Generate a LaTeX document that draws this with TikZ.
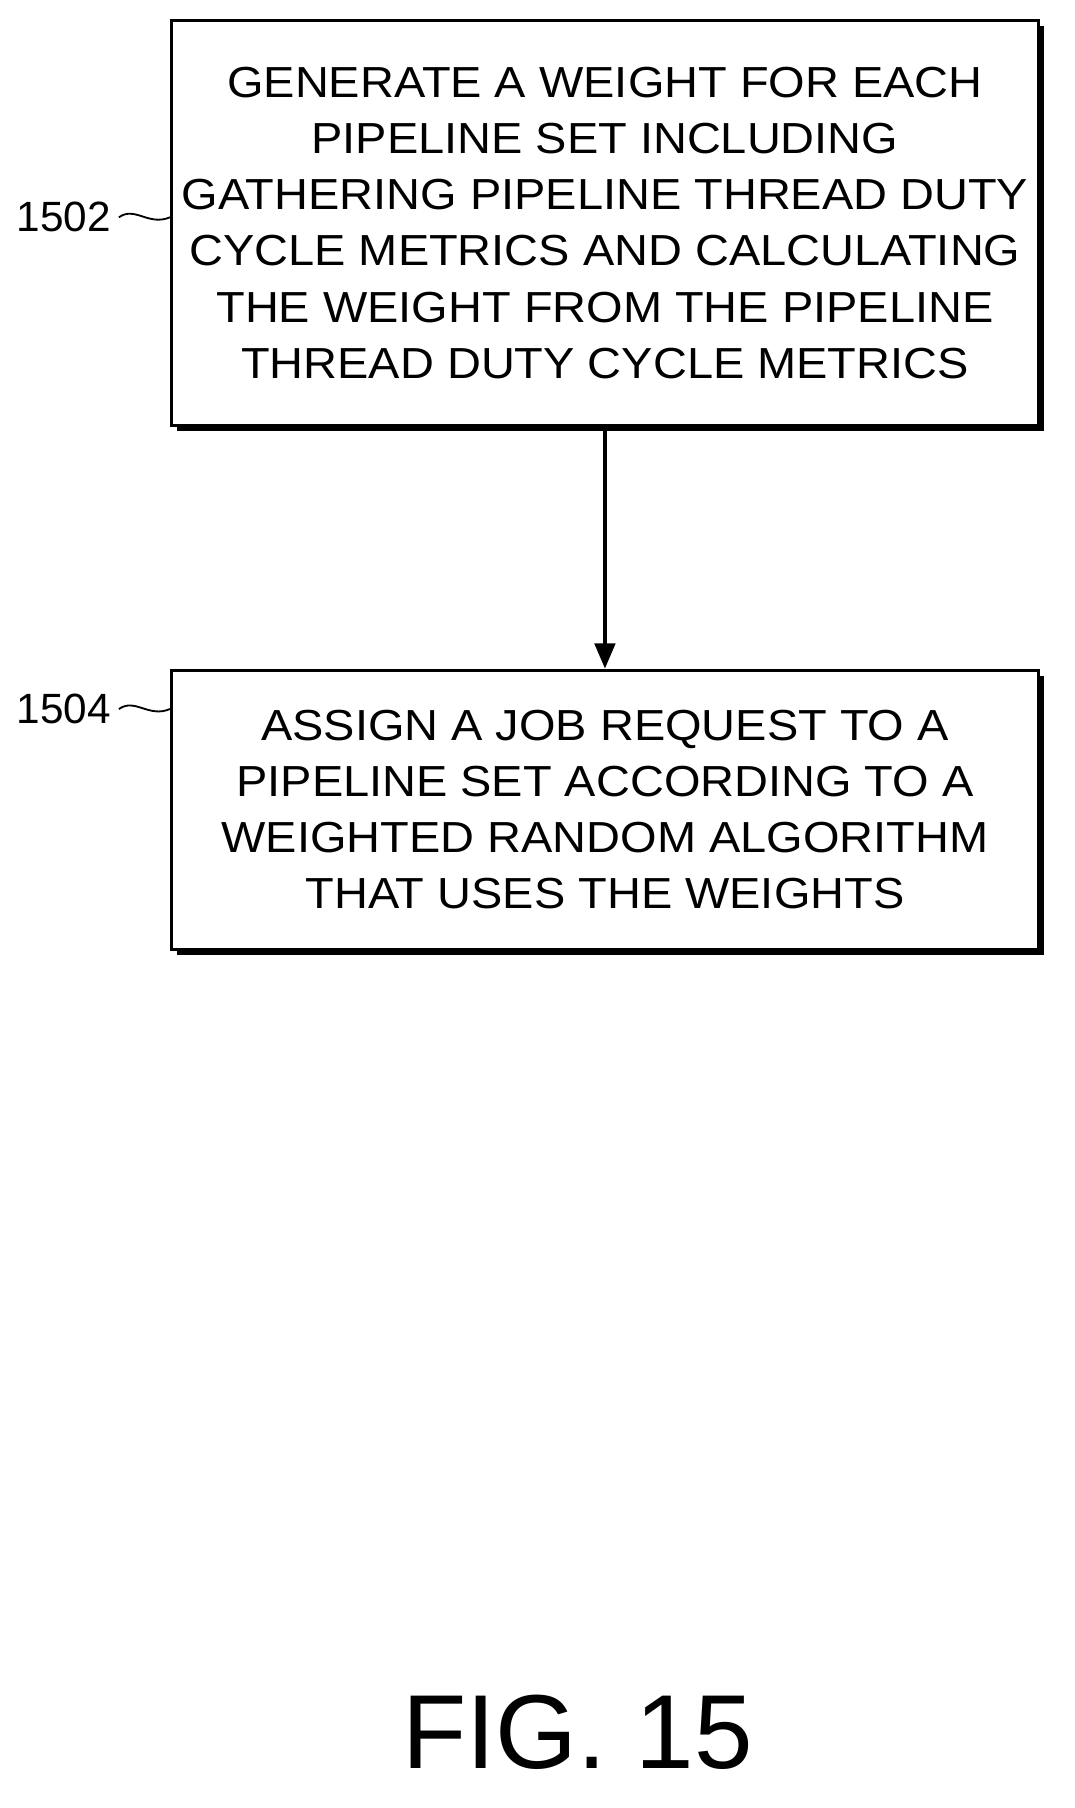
\documentclass[tikz,border=0pt]{standalone}
\usepackage{fontspec}
\setmainfont{Liberation Sans}
\newfontfamily\widefont[FakeStretch=1.08]{Liberation Sans}
\usetikzlibrary{positioning,arrows.meta,shadows}
\begin{document}
\begin{tikzpicture}[x=0.5pt,y=-0.5pt]
    \tikzstyle{stepbox}=[rectangle,draw=black,line width=1.4pt,fill=white,
        align=center,font=\widefont\fontsize{19}{24.5}\selectfont,inner sep=0pt,
        drop shadow={shadow xshift=2.5pt,shadow yshift=-2.5pt,opacity=1,fill=black}]
    \tikzstyle{reflabel}=[font=\fontsize{18.5}{20}\selectfont,anchor=east]
    \useasboundingbox (0,0) rectangle (940,1581);
    \node[stepbox, minimum width=379pt, minimum height=177pt] (gen) at (529,195)
        {GENERATE A WEIGHT FOR EACH\\PIPELINE SET INCLUDING\\GATHERING PIPELINE THREAD DUTY\\CYCLE METRICS AND CALCULATING\\THE WEIGHT FROM THE PIPELINE\\THREAD DUTY CYCLE METRICS};
    \node[stepbox, minimum width=379pt, minimum height=122pt] (assign) at (529,708)
        {ASSIGN A JOB REQUEST TO A\\PIPELINE SET ACCORDING TO A\\WEIGHTED RANDOM ALGORITHM\\THAT USES THE WEIGHTS};
    \draw[line width=1.4pt,-{Triangle[length=11pt,width=9pt]}] (gen) -- (assign);

    % reference numerals
    \node[reflabel] (n1502) at (104,190) {1502};
    \node[reflabel] (n1504) at (104,620) {1504};
    \draw[line width=0.8pt] (n1502.east) .. controls (118,180) and (130,198) .. (gen.west |- n1502.east);
    \draw[line width=0.8pt] (n1504.east) .. controls (118,610) and (130,628) .. (assign.west |- n1504.east);

    \node[font=\fontsize{46}{46}\selectfont] (fig) at (505,1515) {FIG. 15};
\end{tikzpicture}
\end{document}
